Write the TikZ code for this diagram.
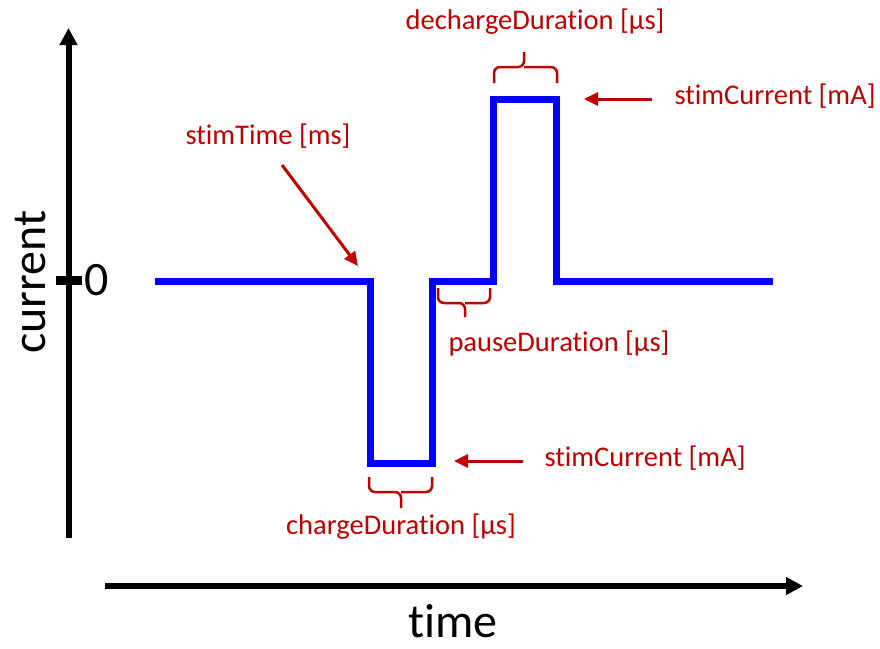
\documentclass[tikz,border=0pt]{standalone}
\usepackage{fontspec}
\setmainfont[Ligatures={NoCommon,NoContextual,NoRare}]{Carlito}
\usetikzlibrary{arrows.meta}
\definecolor{annot}{RGB}{192,0,0}
\definecolor{pulse}{RGB}{0,0,255}
\tikzset{
  axis/.style={line width=6pt, -{Triangle[length=17pt,width=17pt]}},
  signal/.style={draw=pulse, line width=7pt, line join=miter},
  pointer/.style={draw=annot, line width=3pt, -{Triangle[length=14pt,width=13pt]}},
  bracket/.style={draw=annot, line width=2.5pt, rounded corners=6pt},
  label/.style={text=annot, inner sep=0pt, font=\fontsize{28.5}{34}\selectfont},
  axislabel/.style={text=black, inner sep=0pt, font=\fontsize{48}{56}\selectfont}
}
\begin{document}
\begin{tikzpicture}[x=1pt,y=-1pt]
\useasboundingbox (0,0) rectangle (880,648);

% axes
\coordinate (yb) at (68.5,538);
\coordinate (yt) at (68.5,28);
\coordinate (xl) at (105,586);
\coordinate (xr) at (803,586);
\draw[axis] (yb) -- (yt);
\draw[axis] (xl) -- (xr);
\coordinate (tl) at (56,280);
\coordinate (tr) at (82,280);
\draw[line width=9pt] (tl) -- (tr);
\node[axislabel] (zero) at (97,280) {0};
\node[axislabel, rotate=90] (ylab) at (30,282) {current};
\node[axislabel, anchor=base] (xlab) at (453,637) {time};

% stimulation pulse
\coordinate (p0) at (155,281);
\coordinate (p1) at (370,281);
\coordinate (p2) at (370,463);
\coordinate (p3) at (432,463);
\coordinate (p4) at (432,281);
\coordinate (p5) at (493,281);
\coordinate (p6) at (493,99);
\coordinate (p7) at (556,99);
\coordinate (p8) at (556,281);
\coordinate (p9) at (773,281);
\draw[signal] (p0) -- (p1) -- (p2) -- (p3) -- (p4) -- (p5) -- (p6) -- (p7) -- (p8) -- (p9);

% duration brackets
\draw[bracket] (369,477) -- (369,492) -- (401,492) -- (401,508);
\draw[bracket] (432,477) -- (432,492) -- (401,492);
\draw[bracket] (438,288) -- (438,303) -- (465,303) -- (465,317);
\draw[bracket] (490,288) -- (490,303) -- (465,303);
\draw[bracket] (494,83) -- (494,67) -- (524,67) -- (524,52);
\draw[bracket] (557,83) -- (557,67) -- (524,67);

% parameter labels
\node[label] (dech) at (535,22) {dechargeDuration [µs]};
\node[label] (curtop) at (775,96) {stimCurrent [mA]};
\node[label] (stime) at (268,136) {stimTime [ms]};
\node[label] (pause) at (559,343) {pauseDuration [µs]};
\node[label] (curbot) at (645,458) {stimCurrent [mA]};
\node[label] (charge) at (401,527) {chargeDuration [µs]};

% pointers
\coordinate (a1s) at (652,99);
\coordinate (a1e) at (584,99);
\coordinate (a2s) at (523,461);
\coordinate (a2e) at (454,461);
\coordinate (a3s) at (282,165);
\coordinate (a3e) at (358,266);
\draw[pointer] (a1s) -- (a1e);
\draw[pointer] (a2s) -- (a2e);
\draw[pointer] (a3s) -- (a3e);
\end{tikzpicture}
\end{document}
